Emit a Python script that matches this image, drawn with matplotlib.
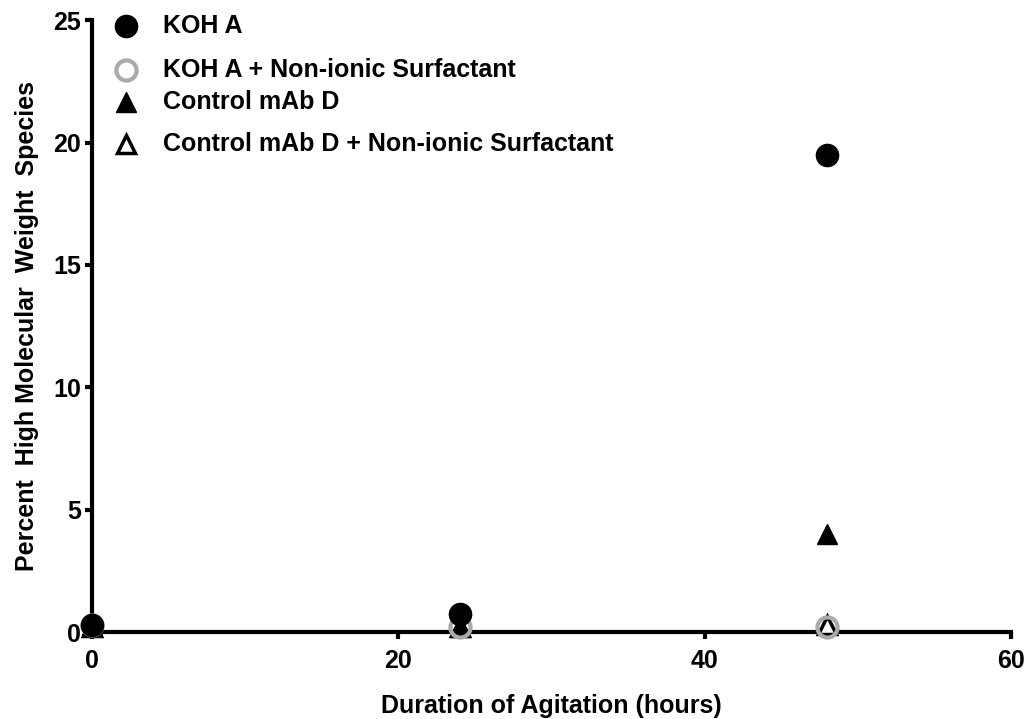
import matplotlib.pyplot as plt

plt.rcParams['font.family'] = ['Liberation Sans', 'DejaVu Sans']
plt.rcParams['font.weight'] = 'bold'

hours = [0, 24, 48]
koh_a = [0.3, 0.75, 19.5]
koh_a_surf = [0.3, 0.2, 0.2]
control_d = [0.3, 0.2, 4.0]
control_d_surf = [0.2, 0.2, 0.3]

series_labels = ['KOH A', 'KOH A + Non-ionic Surfactant',
                 'Control mAb D', 'Control mAb D + Non-ionic Surfactant']

styles = {
    'KOH A': dict(marker='o', markersize=16, color='black'),
    'KOH A + Non-ionic Surfactant': dict(marker='o', markersize=14.5, markerfacecolor='none',
                                         markeredgecolor='#aaaaaa', markeredgewidth=3),
    'Control mAb D': dict(marker='^', markersize=14, color='black'),
    'Control mAb D + Non-ionic Surfactant': dict(marker='^', markersize=13, markerfacecolor='white',
                                                 markeredgecolor='black', markeredgewidth=2.5),
}

fig = plt.figure(figsize=(10.28, 7.19), dpi=100)
ax = fig.add_axes([0.0895, 0.121, 0.894, 0.851])

# back to front: open triangles, filled triangles, grey rings, filled circles
series = [('Control mAb D + Non-ionic Surfactant', control_d_surf),
          ('Control mAb D', control_d),
          ('KOH A + Non-ionic Surfactant', koh_a_surf),
          ('KOH A', koh_a)]
for z, (name, vals) in enumerate(series):
    ax.plot(hours, vals, linestyle='none', zorder=3 + z, clip_on=False, **styles[name])

ax.set_xlim(0, 60)
ax.set_ylim(0, 25)
ax.set_xticks([0, 20, 40, 60])
ax.set_yticks([0, 5, 10, 15, 20, 25])

for side in ['top', 'right']:
    ax.spines[side].set_visible(False)
for side in ['left', 'bottom']:
    ax.spines[side].set_linewidth(3)
ax.tick_params(width=3, length=5, labelsize=18)
ax.tick_params(axis='x', pad=7)
ax.tick_params(axis='y', pad=3)

ax.set_xlabel('Duration of Agitation (hours)', fontsize=18, fontweight='bold', labelpad=15)
ax.set_ylabel('Percent  High Molecular  Weight  Species', fontsize=18, fontweight='bold', labelpad=10)

# key in the upper left, rows spaced like the original figure
key_rows = [26, 70, 102, 144]
for name, ypix in zip(series_labels, key_rows):
    yf = 1 - ypix / 719
    ax.plot([126 / 1028], [yf], linestyle='none', transform=fig.transFigure,
            clip_on=False, **styles[name])
    fig.text(163 / 1028, yf, name, fontsize=18, fontweight='bold', va='center', ha='left')

fig.savefig('out.png', dpi=100)
